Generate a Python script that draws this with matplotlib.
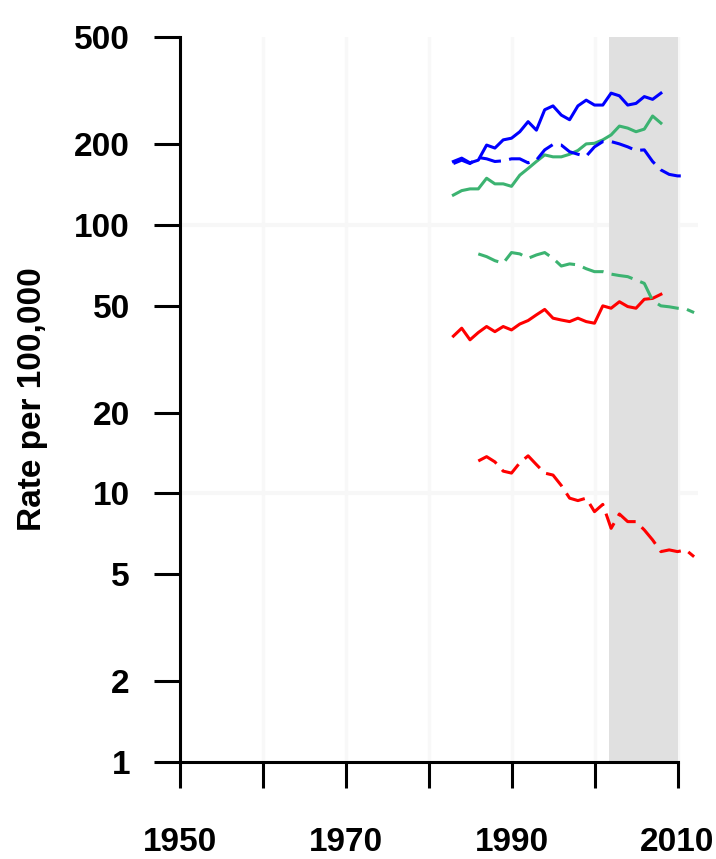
import matplotlib
matplotlib.use('Agg')
import matplotlib.pyplot as plt
from matplotlib.ticker import FixedLocator, NullLocator

plt.rcParams['lines.scale_dashes'] = False
plt.rcParams['font.family'] = ['Liberation Sans', 'DejaVu Sans']

# Incidence (solid lines), 1983-2008
years_inc = list(range(1983, 2009))
blue_inc = [172, 177, 170, 174, 198, 193, 207, 210, 222, 242, 225, 268, 277,
            256, 246, 277, 291, 279, 279, 309, 302, 279, 283, 300, 293, 309]
green_inc = [129, 134, 136, 136, 149, 142, 142, 139, 153, 162, 172, 182, 179,
             179, 183, 189, 200, 201, 207, 216, 233, 229, 222, 227, 254, 239]
red_inc = [38.5, 41.2, 37.3, 39.7, 41.8, 40.0, 41.8, 40.6, 42.7, 44.0, 46.2,
           48.4, 44.9, 44.2, 43.6, 44.9, 43.6, 43.0, 49.9, 48.9, 51.7, 49.6,
           48.9, 52.8, 53.2, 55.1]

# Mortality (dashed lines)
years_blue_mort = list(range(1983, 2012))
blue_mort = [169, 174, 169, 178, 176, 172, 173, 176, 176, 170, 174, 190, 199,
             198, 187, 183, 180, 195, 204, 204, 200, 195, 189, 190, 172, 160,
             154, 152, 152]
years_mort = list(range(1986, 2013))
green_mort = [77.9, 76.1, 73.5, 71.9, 78.8, 77.9, 75.0, 77.2, 78.8, 75.0, 70.2,
              71.5, 70.9, 68.6, 66.9, 66.9, 65.5, 64.7, 64.1, 62.3, 60.5, 52.2,
              49.9, 49.5, 48.9, 48.6, 47.1]
red_mort = [13.2, 13.7, 13.1, 12.1, 11.9, 13.0, 13.8, 12.8, 11.9, 11.7, 10.7,
            9.6, 9.4, 9.6, 8.55, 9.1, 7.41, 8.38, 7.85, 7.85, 7.31, 6.71, 6.07,
            6.16, 6.07, 6.16, 5.81]

y_ticks = [1, 2, 5, 10, 20, 50, 100, 200, 500]
y_tick_labels = ['1', '2', '5', '10', '20', '50', '100', '200', '500']
x_ticks = [1950, 1960, 1970, 1980, 1990, 2000, 2010]
x_tick_labels = ['1950', '', '1970', '', '1990', '', '2010']

BLUE = '#0000FF'
GREEN = '#3CB371'
RED = '#FF0000'

fig = plt.figure(figsize=(7.16, 8.59), dpi=100)
ax = fig.add_axes([179.5 / 716, 97 / 859, 518.75 / 716, 725 / 859])
ax.set_yscale('log')
ax.set_ylim(1, 500)
ax.set_xlim(1950, 2012.5)

# faint grid
for xv in x_ticks:
    ax.axvline(xv, color='#f8f8f8', lw=2.5, zorder=0)
for yv in [10, 100]:
    ax.axhline(yv, color='#f7f7f7', lw=3, zorder=0)

ax.axvspan(2001.7, 2010, color='#e0e0e0', lw=0, zorder=0.5)

lw = 2.2
dash = (15.5, 6.0)
ax.plot(years_inc, blue_inc, color=BLUE, lw=lw, clip_on=False, zorder=3)
ax.plot(years_inc, green_inc, color=GREEN, lw=lw, clip_on=False, zorder=3)
ax.plot(years_inc, red_inc, color=RED, lw=lw, clip_on=False, zorder=3)
ax.plot(years_blue_mort, blue_mort, color=BLUE, lw=lw, dashes=dash,
        clip_on=False, zorder=3)
ax.plot(years_mort, green_mort, color=GREEN, lw=lw, dashes=dash,
        clip_on=False, zorder=3)
ax.plot(years_mort, red_mort, color=RED, lw=lw, dashes=dash,
        clip_on=False, zorder=3)

for s in ['top', 'right']:
    ax.spines[s].set_visible(False)
for s in ['left', 'bottom']:
    ax.spines[s].set_linewidth(2.2)
    ax.spines[s].set_color('black')
ax.spines['left'].set_bounds(1, 500)
ax.spines['bottom'].set_bounds(1950, 2010)

ax.yaxis.set_major_locator(FixedLocator(y_ticks))
ax.yaxis.set_minor_locator(NullLocator())
ax.set_yticklabels(y_tick_labels)
ax.set_xticks(x_ticks)
ax.set_xticklabels(x_tick_labels)

ax.tick_params(axis='both', direction='out', length=18.7, width=2.2,
               color='black', labelsize=24)
ax.tick_params(axis='x', pad=28)
ax.tick_params(axis='y', pad=17)
for lab in ax.get_xticklabels() + ax.get_yticklabels():
    lab.set_fontweight('bold')

fig.text(33 / 716, 1 - 399.5 / 859, 'Rate per 100,000', rotation=90,
         ha='center', va='center', fontsize=24, fontweight='bold')

fig.savefig('out.png', dpi=100)
